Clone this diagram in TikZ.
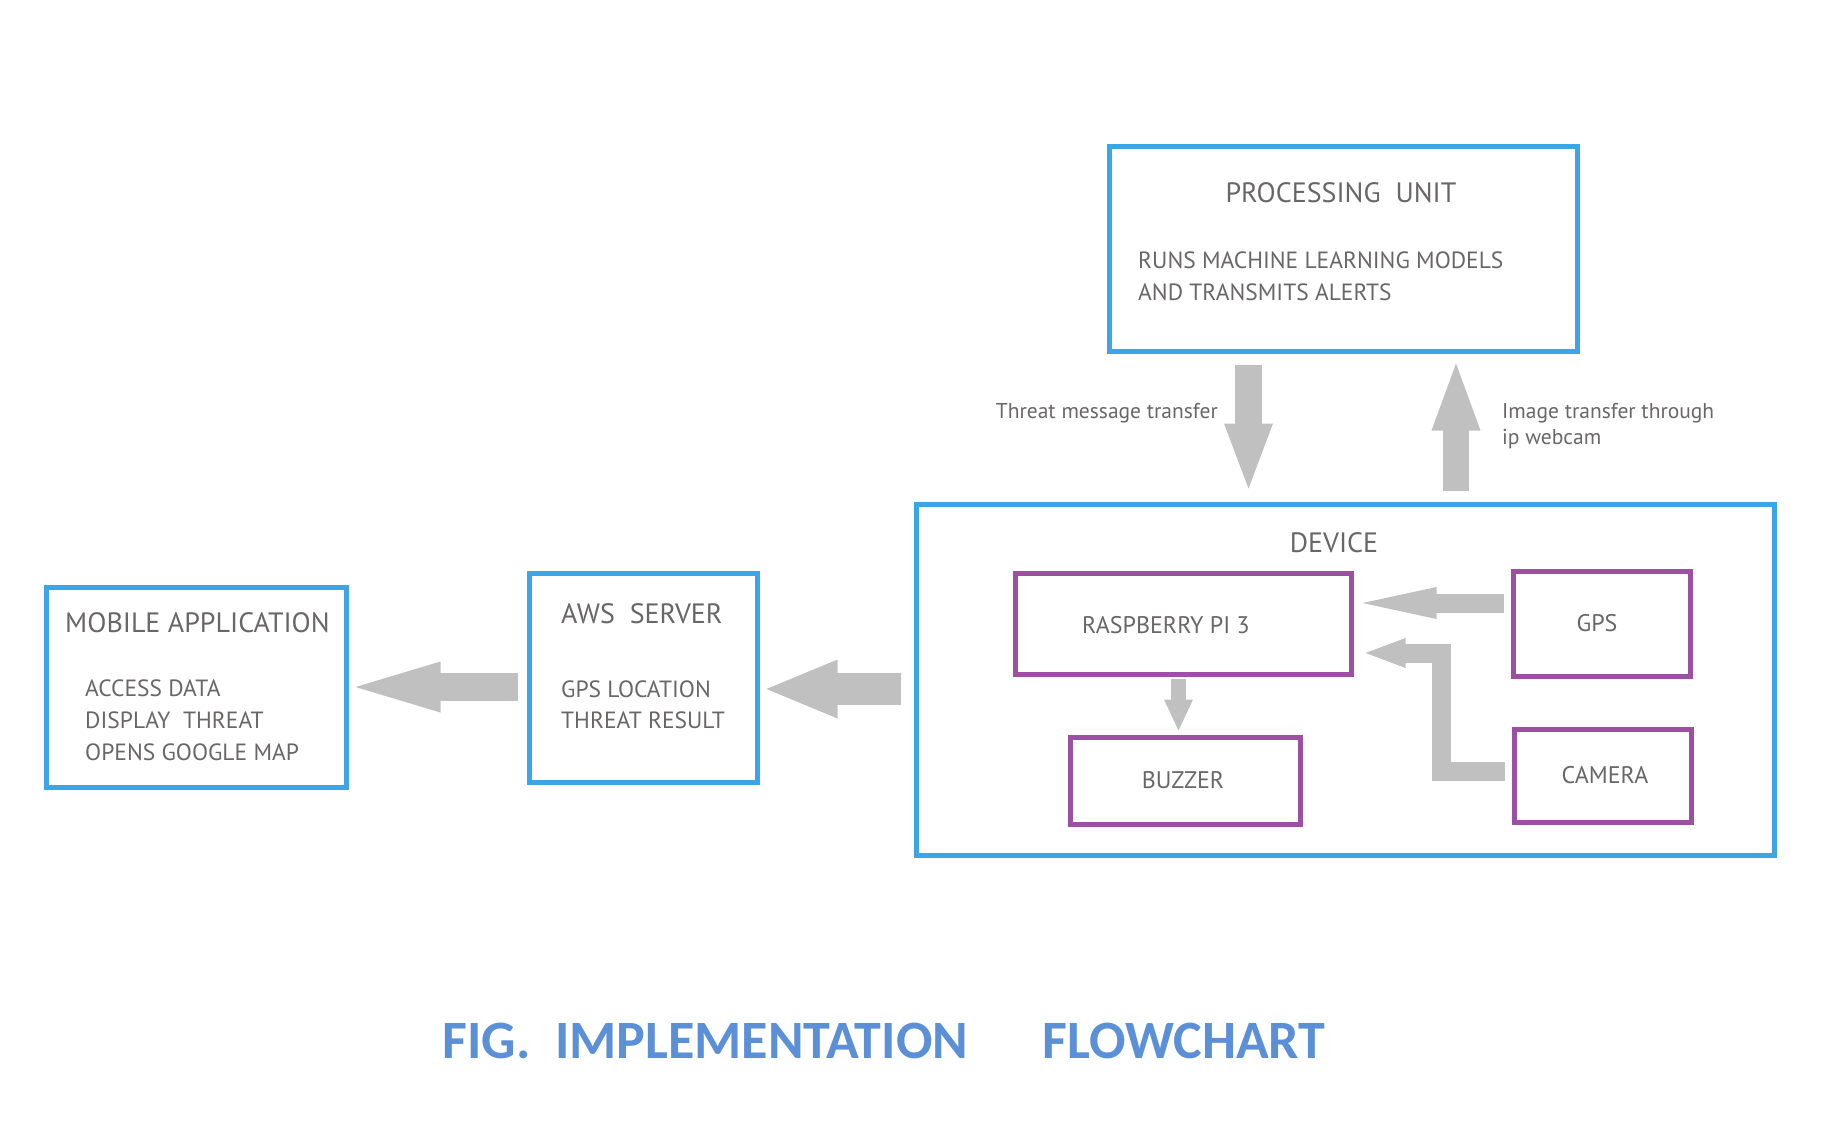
\documentclass[tikz,border=0pt]{standalone}
\usepackage{fontspec}
\setmainfont{PT Sans}
\newfontfamily\capfont{Carlito}
\usetikzlibrary{arrows.meta}
\definecolor{boxblue}{RGB}{59,165,230}
\definecolor{boxpurple}{RGB}{156,79,163}
\definecolor{txtgray}{RGB}{105,102,102}
\definecolor{arrgray}{RGB}{192,192,192}
\definecolor{capblue}{RGB}{91,143,214}
\tikzset{
  bluebox/.style={draw=boxblue, line width=5pt, fill=white, rectangle, inner sep=0pt},
  purplebox/.style={draw=boxpurple, line width=5pt, fill=white, rectangle, inner sep=0pt},
  titletxt/.style={text=txtgray, inner sep=0pt, font=\fontsize{28}{32}\selectfont},
  bodytxt/.style={text=txtgray, inner sep=0pt, font=\fontsize{23.5}{32}\selectfont},
  comptxt/.style={text=txtgray, inner sep=0pt, font=\fontsize{24}{30}\selectfont},
  lbltxt/.style={text=txtgray, inner sep=0pt, font=\fontsize{21.5}{26}\selectfont},
  captxt/.style={text=capblue, inner sep=0pt, font=\capfont\bfseries\fontsize{54}{60}\selectfont},
  blockarrow/.style={draw=arrgray, line cap=rect},
}
\begin{document}
\begin{tikzpicture}[x=1pt,y=-1pt]
\useasboundingbox (0,0) rectangle (1832,1121);

% main boxes
\node[bluebox, minimum width=468pt, minimum height=204pt] (pu) at (1343,249) {};
\node[bluebox, minimum width=858pt, minimum height=351pt] (dev) at (1345,679.5) {};
\node[bluebox, minimum width=228pt, minimum height=209pt] (aws) at (643,677.5) {};
\node[bluebox, minimum width=300pt, minimum height=200pt] (mob) at (196,687) {};

% inner boxes
\node[purplebox, minimum width=336pt, minimum height=101pt] (rpi) at (1183,623.5) {};
\node[purplebox, minimum width=177pt, minimum height=105pt] (gps) at (1601.5,623.5) {};
\node[purplebox, minimum width=177pt, minimum height=93pt] (cam) at (1602.5,775.5) {};
\node[purplebox, minimum width=230pt, minimum height=87pt] (buz) at (1185,780.5) {};

% texts
\node[titletxt, anchor=base] (putitle) at (1341,202) {PROCESSING\ \ UNIT};
\node[bodytxt, anchor=base west] (pu1) at (1138,268) {RUNS MACHINE LEARNING MODELS};
\node[bodytxt, anchor=base west] (pu2) at (1138,300) {AND TRANSMITS ALERTS};

\node[titletxt, anchor=base] (devtitle) at (1334,552) {DEVICE};
\node[comptxt, anchor=base] (rpitxt) at (1166,633) {RASPBERRY PI 3};
\node[comptxt, anchor=base] (gpstxt) at (1597,631) {GPS};
\node[comptxt, anchor=base] (camtxt) at (1605,783) {CAMERA};
\node[comptxt, anchor=base] (buztxt) at (1183,788) {BUZZER};

\node[titletxt, anchor=base west] (awstitle) at (561,623) {AWS\ \ SERVER};
\node[bodytxt, anchor=base west] (aws1) at (561,697) {GPS LOCATION};
\node[bodytxt, anchor=base west] (aws2) at (561,728) {THREAT RESULT};

\node[titletxt, anchor=base west] (mobtitle) at (65,632) {MOBILE\ APPLICATION};
\node[bodytxt, anchor=base west] (mob1) at (85,696) {ACCESS DATA};
\node[bodytxt, anchor=base west] (mob2) at (85,728) {DISPLAY\ \ THREAT};
\node[bodytxt, anchor=base west] (mob3) at (85,760) {OPENS GOOGLE MAP};

\node[lbltxt, anchor=base east] (lblthreat) at (1218,418) {Threat message transfer};
\node[lbltxt, anchor=base west] (lblimg1) at (1502,418) {Image transfer through};
\node[lbltxt, anchor=base west] (lblimg2) at (1502,444) {ip webcam};

\node[captxt, anchor=base west] (capfig) at (442.5,1058) {FIG.};
\node[captxt, anchor=base west] (capimpl) at (555,1058) {IMPLEMENTATION};
\node[captxt, anchor=base west] (capflow) at (1042.5,1058) {FLOWCHART};

% arrows
\coordinate (pd) at ([xshift=-94.5pt]pu.south);
\draw[blockarrow, line width=27pt, -{Triangle[width=49pt,length=65pt,line width=0pt]}, shorten <=24.5pt, shorten >=13pt] (pd) -- (pd |- dev.north);

\coordinate (du) at ([xshift=111pt]dev.north);
\draw[blockarrow, line width=26pt, -{Triangle[width=49pt,length=67pt,line width=0pt]}, shorten <=24pt, shorten >=10pt] (du) -- (du |- pu.south);

\coordinate (ga) at ([yshift=20.5pt]gps.west);
\draw[blockarrow, line width=19pt, -{Triangle[width=32pt,length=74pt,line width=0pt]}, shorten <=16.5pt, shorten >=9pt] (ga) -- (ga -| rpi.east);

\coordinate (ca) at ([yshift=4.5pt]cam.west);
\coordinate (cb) at (1441,653);
\draw[blockarrow, line width=19pt, -{Triangle[width=30pt,length=40pt,line width=0pt]}, shorten <=16.5pt, shorten >=12pt] (ca) -| (cb) -- (cb -| rpi.east);

\coordinate (rb) at ([xshift=-4.5pt]rpi.south);
\draw[blockarrow, line width=15pt, -{Triangle[width=29pt,length=31pt,line width=0pt]}, shorten <=10pt, shorten >=4pt] (rb) -- (rb |- buz.north);

\coordinate (da) at ([yshift=-9.5pt]dev.west);
\draw[blockarrow, line width=32pt, -{Triangle[width=59pt,length=71pt,line width=0pt]}, shorten <=29pt, shorten >=7pt] (da) -- (da -| aws.east);

\draw[blockarrow, line width=28pt, -{Triangle[width=51pt,length=85pt,line width=0pt]}, shorten <=23pt, shorten >=7pt] (aws.west |- mob.east) -- (mob.east);
\end{tikzpicture}
\end{document}
